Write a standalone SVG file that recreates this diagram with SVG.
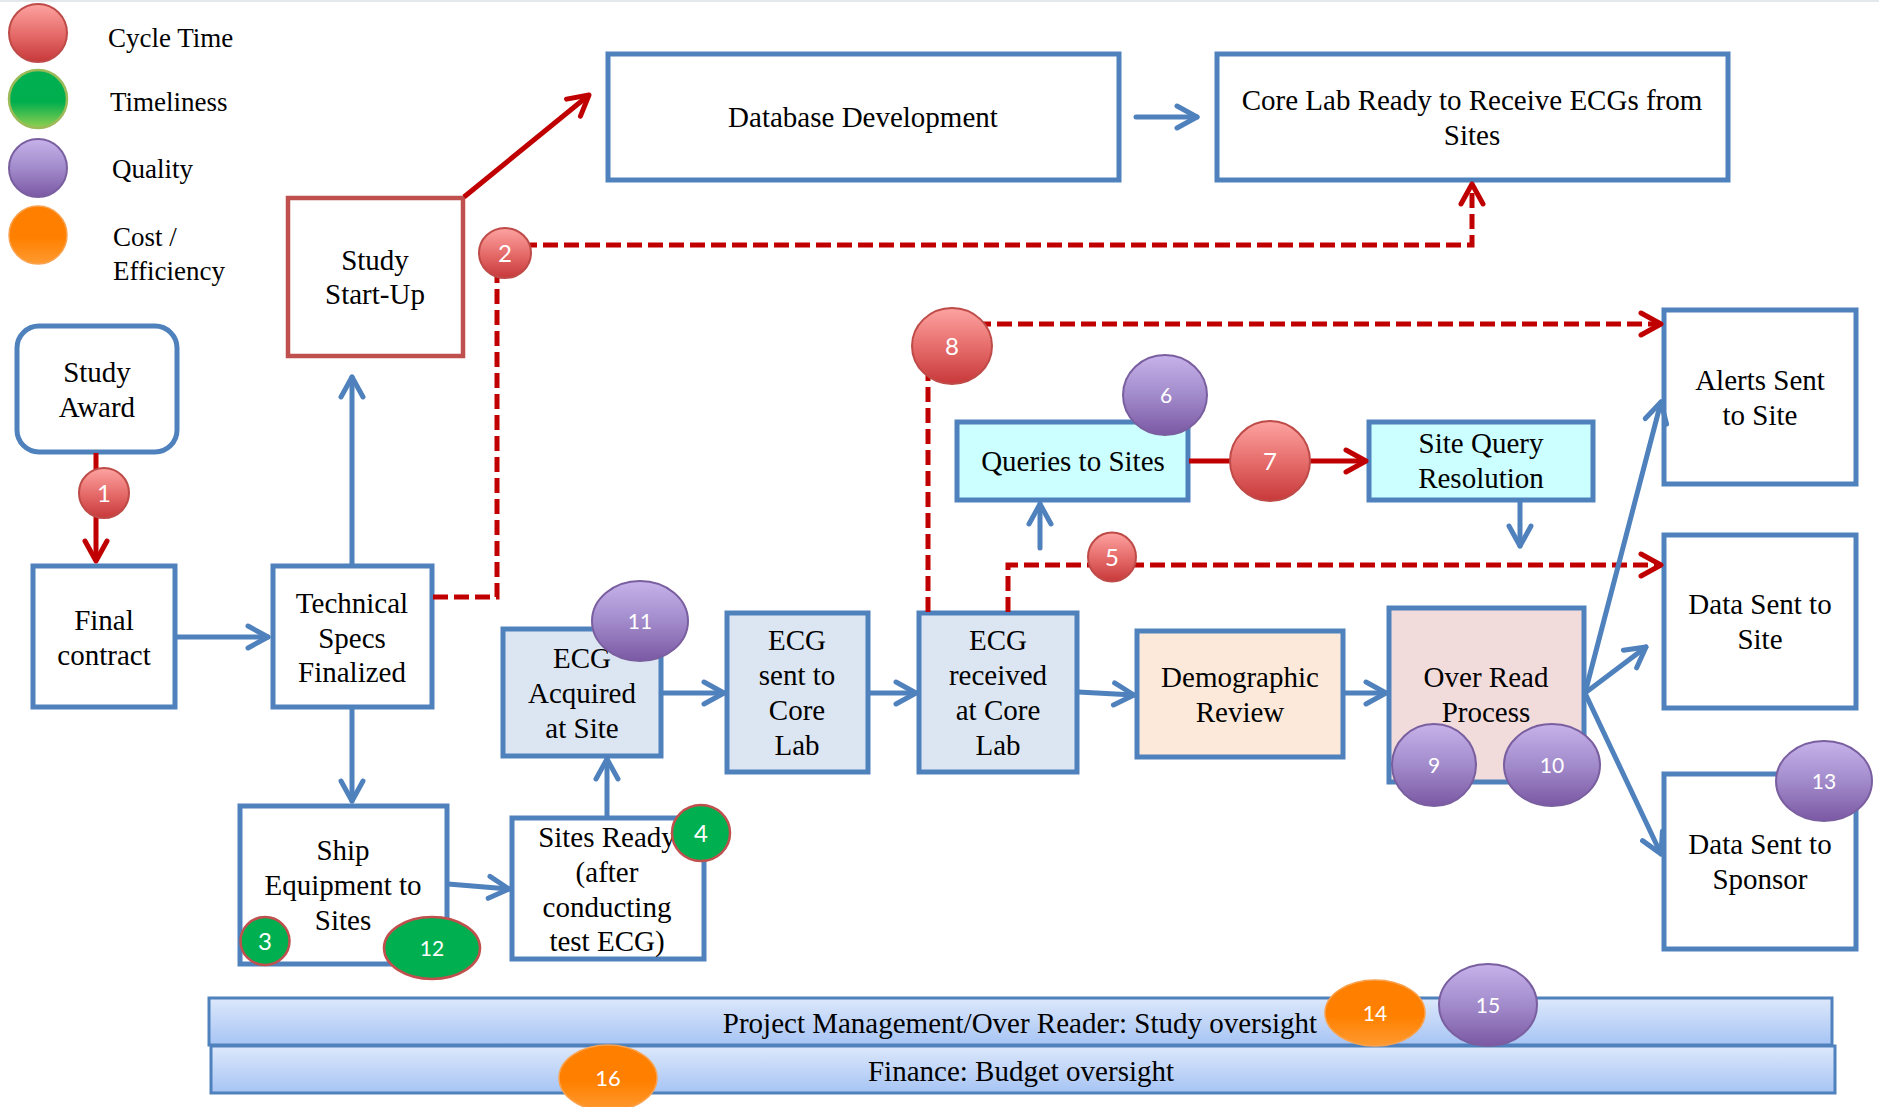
<svg xmlns="http://www.w3.org/2000/svg" width="1879" height="1107" viewBox="0 0 1879 1107">
  <style>
    .box { fill: #FFFFFF; stroke: #4F81BD; stroke-width: 5; }
    .ecg { fill: #DCE6F2; }
    .qry { fill: #CCFFFF; }
    .demo { fill: #FDE9D9; }
    .ovr { fill: #F2DCDB; }
    .t { font-family: "Liberation Serif", "Times New Roman", serif; font-size: 29px; fill: #000000; text-anchor: middle; }
    .lg { font-family: "Liberation Serif", "Times New Roman", serif; font-size: 27px; fill: #000000; }
    .n { font-family: Lato, "Open Sans", sans-serif; fill: #FFFFFF; text-anchor: middle; }
    .blue { fill: none; stroke: #4F81BD; stroke-width: 5; stroke-linecap: round; marker-end: url(#arrBlue); }
    .red { fill: none; stroke: #C00000; stroke-width: 5; marker-end: url(#arrRed); }
    .dash { stroke-dasharray: 15 6; stroke-linejoin: miter; }
    .b-red { fill: url(#gRed); stroke: #BE4B48; stroke-width: 2; }
    .b-pur { fill: url(#gPur); stroke: #7A5FA0; stroke-width: 2; }
    .b-grn { fill: #00B050; stroke: #C0504D; stroke-width: 2.5; }
    .b-org { fill: url(#gOrg); stroke: #F9A24F; stroke-width: 1.5; }
    .bar { fill: url(#gBar); stroke: #4F81BD; stroke-width: 3; }
  </style>
  <defs>
    <linearGradient id="gRed" x1="0" y1="0" x2="0" y2="1">
      <stop offset="0" stop-color="#FDA3A1"/>
      <stop offset="0.5" stop-color="#E66E6C"/>
      <stop offset="1" stop-color="#C8383A"/>
    </linearGradient>
    <linearGradient id="gPur" x1="0" y1="0" x2="0" y2="1">
      <stop offset="0" stop-color="#C7B2EA"/>
      <stop offset="0.5" stop-color="#A28BCB"/>
      <stop offset="1" stop-color="#7B58A4"/>
    </linearGradient>
    <linearGradient id="gGrn" x1="0" y1="0" x2="0" y2="1">
      <stop offset="0" stop-color="#00B050"/>
      <stop offset="0.55" stop-color="#00AE4E"/>
      <stop offset="1" stop-color="#92D050"/>
    </linearGradient>
    <linearGradient id="gOrg" x1="0" y1="0" x2="0" y2="1">
      <stop offset="0" stop-color="#FF7F00"/>
      <stop offset="0.55" stop-color="#FF8000"/>
      <stop offset="1" stop-color="#FF9A30"/>
    </linearGradient>
    <linearGradient id="gBar" x1="0" y1="0" x2="0" y2="1">
      <stop offset="0" stop-color="#DDE8FB"/>
      <stop offset="1" stop-color="#A6C4F4"/>
    </linearGradient>
    <marker id="arrBlue" markerUnits="userSpaceOnUse" viewBox="-24 -14 28 28" refX="0" refY="0" markerWidth="28" markerHeight="28" orient="auto">
      <path d="M-20,-11 L0,0 L-20,11" fill="none" stroke="#4F81BD" stroke-width="5" stroke-linecap="round" stroke-linejoin="round"/>
    </marker>
    <marker id="arrRed" markerUnits="userSpaceOnUse" viewBox="-24 -14 28 28" refX="0" refY="0" markerWidth="28" markerHeight="28" orient="auto">
      <path d="M-20,-11 L0,0 L-20,11" fill="none" stroke="#C00000" stroke-width="5" stroke-linecap="round" stroke-linejoin="round"/>
    </marker>
  </defs>

  <rect x="0" y="0" width="1879" height="1107" fill="#FFFFFF"/>
  <line x1="0" y1="1" x2="1879" y2="1" stroke="#E3E8EC" stroke-width="2"/>

  <!-- legend -->
  <g id="legend">
    <g id="legend-cycle">
      <circle cx="38" cy="33" r="29" class="b-red"/>
      <text class="lg" x="108" y="47">Cycle Time</text>
    </g>
    <g id="legend-timeliness">
      <circle cx="38" cy="99" r="29" fill="url(#gGrn)" stroke="#9BBB59" stroke-width="2.5"/>
      <text class="lg" x="110" y="111">Timeliness</text>
    </g>
    <g id="legend-quality">
      <circle cx="38" cy="168" r="29" class="b-pur"/>
      <text class="lg" x="112" y="178">Quality</text>
    </g>
    <g id="legend-cost">
      <circle cx="38" cy="235" r="29" class="b-org"/>
      <text class="lg" x="113" y="246">Cost /</text>
      <text class="lg" x="113" y="280">Efficiency</text>
    </g>
  </g>

  <!-- process steps -->
  <g id="study-award">
    <rect x="17" y="326" width="160" height="126" rx="22" class="box"/>
    <text class="t" x="97" y="382">Study</text>
    <text class="t" x="97" y="417">Award</text>
  </g>
  <g id="study-startup">
    <rect x="288" y="198" width="175" height="158" fill="#FFFFFF" stroke="#C0504D" stroke-width="4.5"/>
    <text class="t" x="375" y="270">Study</text>
    <text class="t" x="375" y="304">Start-Up</text>
  </g>
  <g id="final-contract">
    <rect x="33" y="566" width="142" height="141" class="box"/>
    <text class="t" x="104" y="630">Final</text>
    <text class="t" x="104" y="665">contract</text>
  </g>
  <g id="technical-specs">
    <rect x="273" y="566" width="159" height="141" class="box"/>
    <text class="t" x="352" y="613">Technical</text>
    <text class="t" x="352" y="648">Specs</text>
    <text class="t" x="352" y="682">Finalized</text>
  </g>
  <g id="ship-equipment">
    <rect x="240" y="806" width="207" height="158" class="box"/>
    <text class="t" x="343" y="860">Ship</text>
    <text class="t" x="343" y="895">Equipment to</text>
    <text class="t" x="343" y="930">Sites</text>
  </g>
  <g id="sites-ready">
    <rect x="512" y="818" width="192" height="141" class="box"/>
    <text class="t" x="607" y="847">Sites Ready</text>
    <text class="t" x="607" y="882">(after</text>
    <text class="t" x="607" y="917">conducting</text>
    <text class="t" x="607" y="951">test ECG)</text>
  </g>
  <g id="ecg-acquired">
    <rect x="503" y="629" width="158" height="127" class="box ecg"/>
    <text class="t" x="582" y="668">ECG</text>
    <text class="t" x="582" y="703">Acquired</text>
    <text class="t" x="582" y="738">at Site</text>
  </g>
  <g id="ecg-sent">
    <rect x="727" y="613" width="141" height="159" class="box ecg"/>
    <text class="t" x="797" y="650">ECG</text>
    <text class="t" x="797" y="685">sent to</text>
    <text class="t" x="797" y="720">Core</text>
    <text class="t" x="797" y="755">Lab</text>
  </g>
  <g id="ecg-received">
    <rect x="919" y="613" width="158" height="159" class="box ecg"/>
    <text class="t" x="998" y="650">ECG</text>
    <text class="t" x="998" y="685">received</text>
    <text class="t" x="998" y="720">at Core</text>
    <text class="t" x="998" y="755">Lab</text>
  </g>
  <g id="demographic-review">
    <rect x="1137" y="631" width="206" height="126" class="box demo"/>
    <text class="t" x="1240" y="687">Demographic</text>
    <text class="t" x="1240" y="722">Review</text>
  </g>
  <g id="over-read">
    <rect x="1389" y="608" width="195" height="174" class="box ovr"/>
    <text class="t" x="1486" y="687">Over Read</text>
    <text class="t" x="1486" y="722">Process</text>
  </g>
  <g id="queries-to-sites">
    <rect x="957" y="422" width="231" height="78" class="box qry"/>
    <text class="t" x="1073" y="471">Queries to Sites</text>
  </g>
  <g id="site-query-resolution">
    <rect x="1369" y="422" width="224" height="78" class="box qry"/>
    <text class="t" x="1481" y="453">Site Query</text>
    <text class="t" x="1481" y="488">Resolution</text>
  </g>
  <g id="database-development">
    <rect x="608" y="54" width="511" height="126" class="box"/>
    <text class="t" x="863" y="127">Database Development</text>
  </g>
  <g id="core-lab-ready">
    <rect x="1217" y="54" width="511" height="126" class="box"/>
    <text class="t" x="1472" y="110">Core Lab Ready to Receive ECGs from</text>
    <text class="t" x="1472" y="145">Sites</text>
  </g>
  <g id="alerts-sent">
    <rect x="1664" y="310" width="192" height="174" class="box"/>
    <text class="t" x="1760" y="390">Alerts Sent</text>
    <text class="t" x="1760" y="425">to Site</text>
  </g>
  <g id="data-sent-site">
    <rect x="1664" y="535" width="192" height="173" class="box"/>
    <text class="t" x="1760" y="614">Data Sent to</text>
    <text class="t" x="1760" y="649">Site</text>
  </g>
  <g id="data-sent-sponsor">
    <rect x="1664" y="774" width="192" height="175" class="box"/>
    <text class="t" x="1760" y="854">Data Sent to</text>
    <text class="t" x="1760" y="889">Sponsor</text>
  </g>

  <!-- oversight bands -->
  <g id="project-management">
    <rect x="209" y="998" width="1623" height="47" class="bar"/>
    <text class="t" x="1020" y="1033">Project Management/Over Reader: Study oversight</text>
  </g>
  <g id="finance">
    <rect x="211" y="1046" width="1624" height="47" class="bar"/>
    <text class="t" x="1021" y="1081">Finance: Budget oversight</text>
  </g>

  <!-- connectors -->
  <g id="connectors">
    <path class="red" d="M96,453 L96,561"/>
    <path class="red" d="M464,197 L589,95"/>
    <path class="red" d="M1189,461 L1366,461"/>
    <path class="red dash" d="M433,597 L497,597 L497,245 L1472,245 L1472,184"/>
    <path class="red dash" d="M928,612 L928,324 L1661,324"/>
    <path class="red dash" d="M1008,612 L1008,565 L1661,565"/>

    <path class="blue" d="M176,637 L268,637"/>
    <path class="blue" d="M352,565 L352,377"/>
    <path class="blue" d="M352,708 L352,801"/>
    <path class="blue" d="M448,884 L509,889"/>
    <path class="blue" d="M607,817 L607,759"/>
    <path class="blue" d="M662,693 L724,693"/>
    <path class="blue" d="M869,693 L916,693"/>
    <path class="blue" d="M1078,692 L1134,695"/>
    <path class="blue" d="M1344,693 L1386,693"/>
    <path class="blue" d="M1040,548 L1040,504"/>
    <path class="blue" d="M1520,501 L1520,546"/>
    <path class="blue" d="M1136,117 L1197,117"/>
    <path class="blue" d="M1585,693 L1661,402"/>
    <path class="blue" d="M1585,693 L1646,647"/>
    <path class="blue" d="M1585,693 L1661,854"/>
  </g>

  <!-- metric badges -->
  <g id="badge-1"><ellipse cx="104" cy="493" rx="25" ry="25" class="b-red"/><text class="n" x="104" y="502" font-size="24">1</text></g>
  <g id="badge-2"><ellipse cx="505" cy="253" rx="26" ry="25" class="b-red"/><text class="n" x="505" y="262" font-size="24">2</text></g>
  <g id="badge-3"><ellipse cx="265" cy="941" rx="24.5" ry="24" class="b-grn"/><text class="n" x="265" y="950" font-size="24">3</text></g>
  <g id="badge-4"><ellipse cx="701" cy="833" rx="29" ry="28" class="b-grn"/><text class="n" x="701" y="842" font-size="24">4</text></g>
  <g id="badge-5"><ellipse cx="1112" cy="557" rx="24" ry="24.5" class="b-red"/><text class="n" x="1112" y="566" font-size="24">5</text></g>
  <g id="badge-6"><ellipse cx="1165" cy="395" rx="42" ry="40" class="b-pur"/><text class="n" x="1166" y="403" font-size="21">6</text></g>
  <g id="badge-7"><ellipse cx="1270" cy="461" rx="40" ry="40" class="b-red"/><text class="n" x="1270" y="470" font-size="24">7</text></g>
  <g id="badge-8"><ellipse cx="952" cy="346" rx="40" ry="38" class="b-red"/><text class="n" x="952" y="355" font-size="24">8</text></g>
  <g id="badge-9"><ellipse cx="1434" cy="765" rx="42" ry="41" class="b-pur"/><text class="n" x="1434" y="773" font-size="21">9</text></g>
  <g id="badge-10"><ellipse cx="1552" cy="765" rx="48" ry="41" class="b-pur"/><text class="n" x="1552" y="773" font-size="21">10</text></g>
  <g id="badge-11"><ellipse cx="640" cy="621" rx="48" ry="40" class="b-pur"/><text class="n" x="640" y="629" font-size="21">11</text></g>
  <g id="badge-12"><ellipse cx="432" cy="948" rx="48" ry="31" class="b-grn"/><text class="n" x="432" y="956" font-size="21">12</text></g>
  <g id="badge-13"><ellipse cx="1824" cy="781" rx="48" ry="40" class="b-pur"/><text class="n" x="1824" y="789" font-size="21">13</text></g>
  <g id="badge-14"><ellipse cx="1375" cy="1013" rx="50" ry="33" class="b-org"/><text class="n" x="1375" y="1021" font-size="21">14</text></g>
  <g id="badge-15"><ellipse cx="1488" cy="1005" rx="49" ry="41" class="b-pur"/><text class="n" x="1488" y="1013" font-size="21">15</text></g>
  <g id="badge-16"><ellipse cx="608" cy="1078" rx="49" ry="33" class="b-org"/><text class="n" x="608" y="1086" font-size="22">16</text></g>
</svg>
